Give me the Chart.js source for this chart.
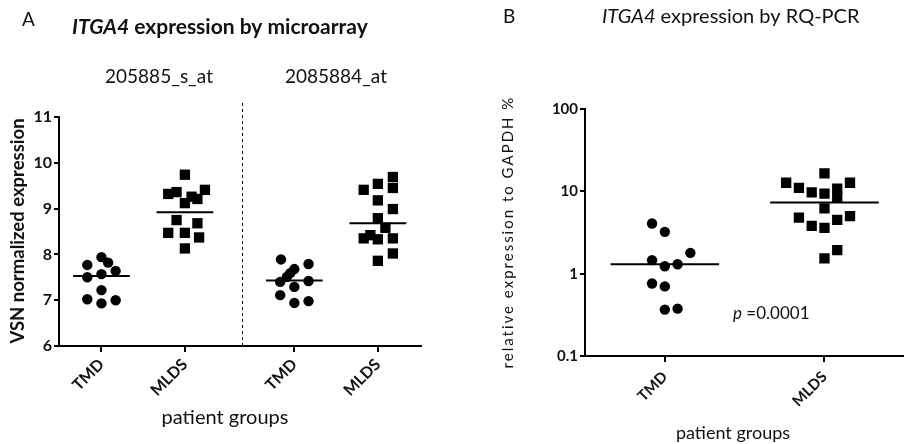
<!DOCTYPE html>
<html>
<head>
<meta charset="utf-8">
<script src="https://cdn.jsdelivr.net/npm/chart.js@4.4.1/dist/chart.umd.min.js"></script>
<style>
body { margin: 0; background: #fff; }
#wrap { position: relative; width: 910px; height: 444px; }
canvas { position: absolute; top: 0; }
#chartA { left: 0; }
#chartB { left: 455px; }
</style>
</head>
<body>
<div id="wrap">
  <canvas id="chartA" width="455" height="444"></canvas>
  <canvas id="chartB" width="455" height="444"></canvas>
</div>
<script>
// panel A: microarray, two probe sets
const groupsA = ["TMD", "MLDS", "TMD", "MLDS"];
const probeLabels = ["205885_s_at", "2085884_at"];
const ticksA = [6, 7, 8, 9, 10, 11];

const tmd1 = [7.77, 7.94, 7.82, 7.64, 7.50, 7.57, 7.22, 7.02, 7.00, 6.93];
const tmd1Jit = [-0.17, 0, 0.08, 0.17, -0.17, 0, 0, -0.17, 0.17, 0];
const mlds1 = [9.74, 9.32, 9.36, 9.12, 9.26, 9.21, 9.41, 8.75, 8.47, 8.47, 8.68, 8.37, 8.13];
const mlds1Jit = [0, -0.2, -0.1, 0, 0.08, 0.15, 0.24, -0.1, -0.2, 0, 0.15, 0.17, 0];
const tmd2 = [7.89, 7.68, 7.59, 7.51, 7.79, 7.40, 7.29, 7.42, 7.11, 6.94, 6.98];
const tmd2Jit = [-0.16, 0, -0.05, -0.09, 0.17, -0.17, 0, 0.17, -0.17, 0, 0.17];
const mlds2 = [9.41, 9.54, 9.69, 9.45, 9.18, 8.99, 8.79, 8.58, 8.35, 8.42, 8.33, 8.35, 8.02, 7.86];
const mlds2Jit = [-0.17, 0, 0.18, 0.18, 0, 0.18, 0, 0.09, -0.17, -0.09, 0, 0.18, 0.18, 0];
const mediansA = [7.53, 8.92, 7.43, 8.68];

// panel B: RQ-PCR, log scale
const groupsB = ["TMD", "MLDS"];
const ticksB = [0.1, 1, 10, 100];
const tmdB = [4.07, 3.22, 1.79, 1.46, 1.23, 1.30, 0.76, 0.70, 0.366, 0.376];
const tmdBJit = [-0.08, 0, 0.16, -0.08, 0, 0.08, -0.08, 0, 0, 0.08];
const mldsB = [12.7, 11.0, 9.7, 16.5, 9.4, 10.8, 8.5, 12.7, 6.2, 4.8, 3.8, 3.6, 4.5, 5.0, 1.93, 1.53];
const mldsBJit = [-0.24, -0.16, -0.08, 0, 0, 0.08, 0.08, 0.16, 0, -0.16, -0.08, 0, 0.08, 0.16, 0.08, 0];
const mediansB = [1.30, 7.3];
const pValue = "0.0001";

// x layout (axis units)
const posA = [0.509, 1.509, 2.821, 3.822];
const dividerA = 2.197;
const posB = [0.5, 1.5];
const halfLine = 0.34;

const FONT = "Lato";
const INK = "#111";

function pts(vals, jit, c) {
  return vals.map((v, i) => ({ x: c + jit[i], y: v }));
}

function dots(vals, jit, c, style) {
  return {
    data: pts(vals, jit, c),
    pointStyle: style,
    pointRadius: style === "rect" ? 7.3 : 5.2,
    pointBackgroundColor: "#000",
    pointBorderWidth: 0,
    showLine: false
  };
}

function medianLine(m, c) {
  return {
    data: [{ x: c - halfLine, y: m }, { x: c + halfLine, y: m }],
    showLine: true,
    borderColor: "#000",
    borderWidth: 2,
    pointRadius: 0
  };
}

function axisStyle(size) {
  return {
    grid: { drawOnChartArea: false, drawTicks: true, tickLength: 6, color: "#000", lineWidth: 2 },
    border: { display: true, color: "#000", width: 2 },
    font: { family: FONT, size: size, weight: "bold" }
  };
}

function mixedText(ctx, parts, x, y) {
  // parts: [text, font]
  let cx = x;
  parts.forEach(p => {
    ctx.font = p[1];
    ctx.fillText(p[0], cx, y);
    cx += ctx.measureText(p[0]).width;
  });
}

const textA = {
  id: "textA",
  afterDraw(chart) {
    const ctx = chart.ctx;
    const xs = chart.scales.x;
    const area = chart.chartArea;
    ctx.save();

    // dashed divider between probe sets
    const dx = Math.round(xs.getPixelForValue(dividerA)) + 0.5;
    ctx.strokeStyle = "#000";
    ctx.lineWidth = 1;
    ctx.setLineDash([3, 3]);
    ctx.beginPath();
    ctx.moveTo(dx, area.top - 14);
    ctx.lineTo(dx, area.bottom);
    ctx.stroke();
    ctx.setLineDash([]);

    ctx.fillStyle = INK;
    ctx.textBaseline = "middle";
    ctx.textAlign = "left";
    ctx.font = "19px " + FONT;
    ctx.fillText("A", 22, 20);
    mixedText(ctx, [["ITGA4", "italic bold 21px " + FONT], [" expression by microarray", "bold 21px " + FONT]], 72, 27);

    ctx.textAlign = "center";
    ctx.font = "19px " + FONT;
    ctx.fillText(probeLabels[0], 159, 77);
    ctx.fillText(probeLabels[1], 336, 77);

    ctx.font = "20px " + FONT;
    ctx.fillText("patient groups", 225, 418);

    ctx.translate(18, 231);
    ctx.rotate(-Math.PI / 2);
    ctx.font = "bold 18.5px " + FONT;
    ctx.fillText("VSN normalized expression", 0, 0);
    ctx.restore();
  }
};

const textB = {
  id: "textB",
  afterDraw(chart) {
    const ctx = chart.ctx;
    ctx.save();
    ctx.fillStyle = INK;
    ctx.textBaseline = "middle";
    ctx.textAlign = "left";
    ctx.font = "19px " + FONT;
    ctx.fillText("B", 48, 17);
    mixedText(ctx, [["ITGA4", "italic 20px " + FONT], [" expression by RQ-PCR", "20px " + FONT]], 147, 17);

    mixedText(ctx, [["p", "italic 17px " + FONT], [" =" + pValue, "17px " + FONT]], 278, 314);

    ctx.textAlign = "center";
    ctx.font = "18px " + FONT;
    ctx.fillText("patient groups", 278, 433);

    ctx.translate(53, 232);
    ctx.rotate(-Math.PI / 2);
    ctx.font = "15px " + FONT;
    ctx.letterSpacing = "2px";
    ctx.fillText("relative expression to GAPDH %", 0, 0);
    ctx.restore();
  }
};

const sA = axisStyle(16);
new Chart(document.getElementById("chartA"), {
  type: "scatter",
  data: {
    datasets: [
      dots(tmd1, tmd1Jit, posA[0], "circle"),
      dots(mlds1, mlds1Jit, posA[1], "rect"),
      dots(tmd2, tmd2Jit, posA[2], "circle"),
      dots(mlds2, mlds2Jit, posA[3], "rect"),
      ...mediansA.map((m, i) => medianLine(m, posA[i]))
    ]
  },
  options: {
    responsive: false,
    animation: false,
    events: [],
    layout: { padding: { top: 117, right: 34, left: 0, bottom: 0 } },
    plugins: { legend: { display: false }, tooltip: { enabled: false } },
    scales: {
      x: {
        type: "linear", min: 0, max: 4.339,
        afterBuildTicks: s => { s.ticks = posA.map(v => ({ value: v })); },
        afterFit: s => { s.height = 98; },
        ticks: { autoSkip: false, minRotation: 45, maxRotation: 45, color: INK, font: sA.font, padding: 3,
          callback: (v, i) => groupsA[i] },
        grid: sA.grid, border: sA.border
      },
      y: {
        min: 6, max: 11,
        afterBuildTicks: s => { s.ticks = ticksA.map(v => ({ value: v })); },
        afterFit: s => { s.width = 59; },
        ticks: { color: INK, font: sA.font, padding: 2 },
        grid: Object.assign({}, sA.grid, { tickLength: 5 }), border: sA.border
      }
    }
  },
  plugins: [textA]
});

const sB = axisStyle(15);
new Chart(document.getElementById("chartB"), {
  type: "scatter",
  data: {
    datasets: [
      dots(tmdB, tmdBJit, posB[0], "circle"),
      dots(mldsB, mldsBJit, posB[1], "rect"),
      ...mediansB.map((m, i) => medianLine(m, posB[i]))
    ]
  },
  options: {
    responsive: false,
    animation: false,
    events: [],
    layout: { padding: { top: 109, right: 0, left: 0, bottom: 0 } },
    plugins: { legend: { display: false }, tooltip: { enabled: false } },
    scales: {
      x: {
        type: "linear", min: 0, max: 1.99,
        afterBuildTicks: s => { s.ticks = posB.map(v => ({ value: v })); },
        afterFit: s => { s.height = 88; },
        ticks: { autoSkip: false, minRotation: 45, maxRotation: 45, color: INK, font: sB.font, padding: 6,
          callback: (v, i) => groupsB[i] },
        grid: sB.grid, border: sB.border
      },
      y: {
        type: "logarithmic", min: 0.1, max: 100,
        afterBuildTicks: s => { s.ticks = ticksB.map(v => ({ value: v, major: true })); },
        afterFit: s => { s.width = 130; },
        ticks: { color: INK, font: sB.font, padding: 2, callback: v => String(v) },
        grid: Object.assign({}, sB.grid, { tickLength: 5 }), border: sB.border
      }
    }
  },
  plugins: [textB]
});
</script>
</body>
</html>
